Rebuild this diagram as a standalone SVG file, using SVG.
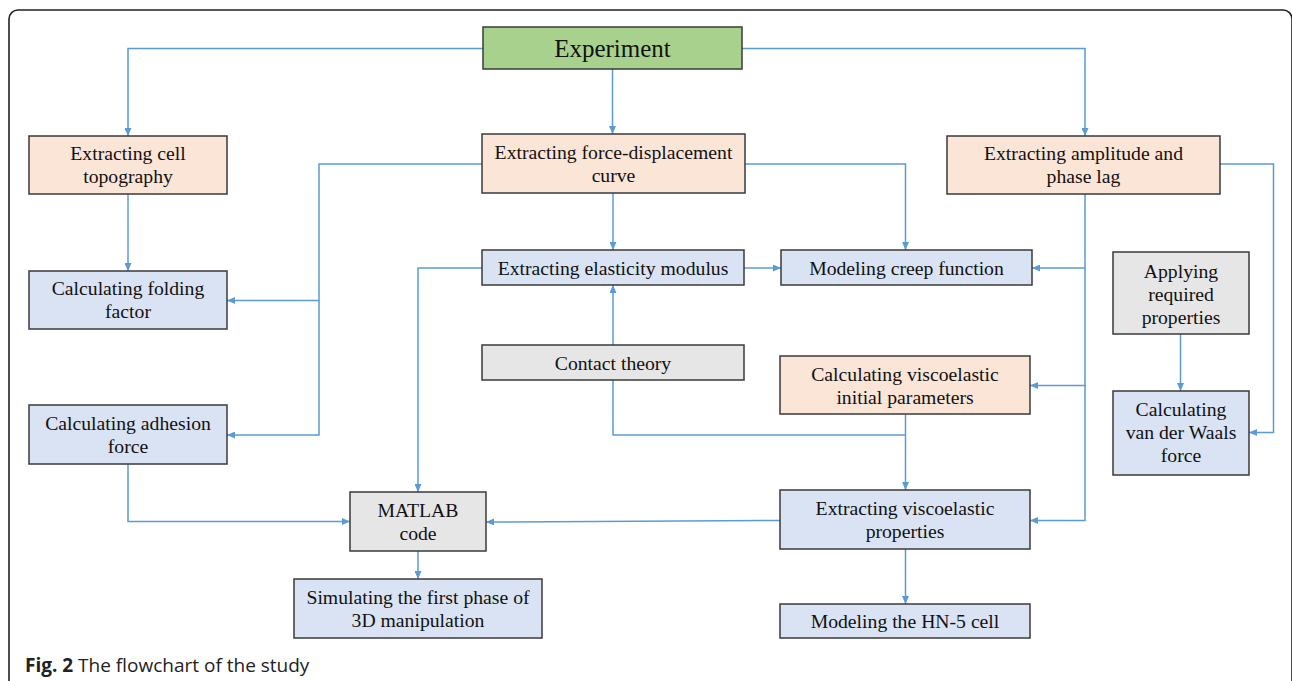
<svg xmlns="http://www.w3.org/2000/svg" width="1292" height="681" viewBox="0 0 1292 681">
<style>
.box{stroke:#3a3a3a;stroke-width:1.5}
.g{fill:#a9d18e}.p{fill:#fbe5d6}.b{fill:#dae3f3}.y{fill:#e7e6e6}
.t{font-family:"Liberation Serif","Times New Roman",serif;font-size:19.7px;fill:#111;text-anchor:middle}
.c{fill:none;stroke:#5b9bd5;stroke-width:1.5;marker-end:url(#ah)}
</style>
<defs>
<marker id="ah" markerUnits="userSpaceOnUse" markerWidth="8" markerHeight="7" refX="8" refY="3.5" orient="auto">
<path d="M0,0 L8,3.5 L0,7 z" fill="#5b9bd5"/>
</marker>
</defs>
<rect width="1292" height="681" fill="#fff"/>
<rect x="9" y="10" width="1283" height="700" rx="9" fill="none" stroke="#222" stroke-width="1.6"/>

<g id="connectors">
<path class="c" d="M483,48.5 H128 V136"/>
<path class="c" d="M612.5,69 V134"/>
<path class="c" d="M742,48.5 H1085 V136"/>
<path class="c" d="M128,194 V271"/>
<path class="c" d="M482,164 H319 V300.5 H227"/>
<path class="c" d="M319,300 V435 H227"/>
<path class="c" d="M613,193 V250"/>
<path class="c" d="M745,164 H905.5 V250"/>
<path class="c" d="M744,268 H781"/>
<path class="c" d="M482,268 H418 V492"/>
<path class="c" d="M613,345 V285"/>
<path fill="none" stroke="#5b9bd5" stroke-width="1.5" d="M613,380 V435 H905.5"/>
<path class="c" d="M905.5,414 V490"/>
<path class="c" d="M1085,194 V268 H1032"/>
<path class="c" d="M1085,268 V385.5 H1030"/>
<path class="c" d="M1085,385 V520.5 H1030"/>
<path class="c" d="M1220,164 H1273.5 V432.5 H1249"/>
<path class="c" d="M1180.5,334 V391"/>
<path class="c" d="M780,520.5 L486,522"/>
<path class="c" d="M128,464 V521.5 H350"/>
<path class="c" d="M418,551 V579"/>
<path class="c" d="M905.5,549 V604"/>
</g>

<g id="experiment"><rect class="box g" x="483" y="27" width="259" height="42"/><text class="t" x="612.5" y="57" style="font-size:25px">Experiment</text></g>
<g id="topography"><rect class="box p" x="29" y="136" width="198" height="58"/><text class="t" x="128" y="160">Extracting cell</text><text class="t" x="128" y="183">topography</text></g>
<g id="forcedisp"><rect class="box p" x="482" y="134" width="263" height="59"/><text class="t" x="613.5" y="159">Extracting force-displacement</text><text class="t" x="613.5" y="182">curve</text></g>
<g id="amplitude"><rect class="box p" x="947" y="136" width="273" height="58"/><text class="t" x="1083.5" y="160">Extracting amplitude and</text><text class="t" x="1083.5" y="183">phase lag</text></g>
<g id="folding"><rect class="box b" x="29" y="271" width="198" height="58"/><text class="t" x="128" y="295">Calculating folding</text><text class="t" x="128" y="318">factor</text></g>
<g id="elasticity"><rect class="box b" x="482" y="250" width="262" height="35"/><text class="t" x="613" y="275">Extracting elasticity modulus</text></g>
<g id="creep"><rect class="box b" x="781" y="250" width="251" height="35"/><text class="t" x="906.5" y="275">Modeling creep function</text></g>
<g id="applying"><rect class="box y" x="1113" y="252" width="136" height="82"/><text class="t" x="1181" y="278">Applying</text><text class="t" x="1181" y="301">required</text><text class="t" x="1181" y="324">properties</text></g>
<g id="contact"><rect class="box y" x="482" y="345" width="262" height="35"/><text class="t" x="613" y="370">Contact theory</text></g>
<g id="viscoinit"><rect class="box p" x="780" y="356" width="250" height="58"/><text class="t" x="905" y="381">Calculating viscoelastic</text><text class="t" x="905" y="404">initial parameters</text></g>
<g id="adhesion"><rect class="box b" x="29" y="405" width="198" height="59"/><text class="t" x="128" y="430">Calculating adhesion</text><text class="t" x="128" y="453">force</text></g>
<g id="vanderwaals"><rect class="box b" x="1113" y="391" width="136" height="84"/><text class="t" x="1181" y="416">Calculating</text><text class="t" x="1181" y="439">van der Waals</text><text class="t" x="1181" y="462">force</text></g>
<g id="matlab"><rect class="box y" x="350" y="492" width="136" height="59"/><text class="t" x="418" y="517">MATLAB</text><text class="t" x="418" y="540">code</text></g>
<g id="viscoprop"><rect class="box b" x="780" y="490" width="250" height="59"/><text class="t" x="905" y="515">Extracting viscoelastic</text><text class="t" x="905" y="538">properties</text></g>
<g id="simulating"><rect class="box b" x="294" y="579" width="248" height="59"/><text class="t" x="418" y="604">Simulating the first phase of</text><text class="t" x="418" y="627">3D manipulation</text></g>
<g id="hn5"><rect class="box b" x="780" y="604" width="250" height="34"/><text class="t" x="905" y="628">Modeling the HN-5 cell</text></g>

<text x="25" y="672" style="font-family:'Open Sans','Noto Sans',sans-serif;font-size:19px;fill:#222"><tspan font-weight="bold">Fig. 2</tspan> The flowchart of the study</text>
</svg>
